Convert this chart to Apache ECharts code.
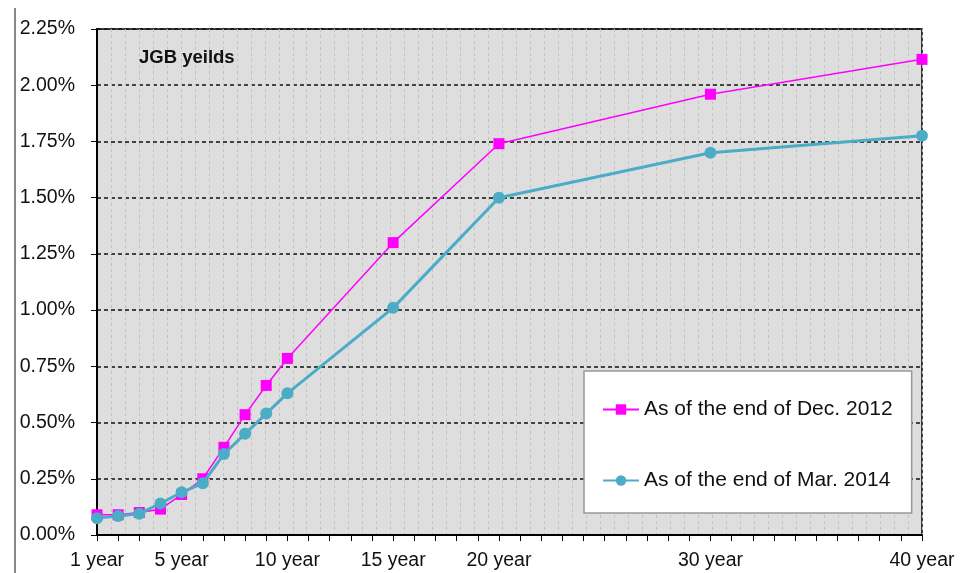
<!DOCTYPE html>
<html><head><meta charset="utf-8">
<script src="https://cdn.jsdelivr.net/npm/echarts@6/dist/echarts.min.js"></script>
<style>html,body{margin:0;padding:0;background:#fff}#c{width:965px;height:573px}</style>
</head><body><div id="c"></div>
<script>
const maturities = [1,2,3,4,5,6,7,8,9,10,15,20,30,40];
const labeledYears = [1,5,10,15,20,30,40];
const dec2012 = [0.09,0.09,0.10,0.115,0.18,0.25,0.39,0.535,0.665,0.785,1.30,1.74,1.96,2.115];
const mar2014 = [0.075,0.085,0.095,0.14,0.19,0.23,0.36,0.45,0.54,0.63,1.01,1.50,1.70,1.775];
const seriesNames = ['As of the end of Dec. 2012','As of the end of Mar. 2014'];
const titleText = 'JGB yeilds';

const FONT = 'Liberation Sans, Arial, sans-serif';
const chart = echarts.init(document.getElementById('c'), null, {renderer:'canvas'});
const pairs = a => maturities.map((m,i)=>[m,a[i]]);
chart.setOption({
  animation:false,
  backgroundColor:'#fff',
  textStyle:{fontFamily:FONT},
  grid:{left:97,right:43,top:29,bottom:38,show:true,backgroundColor:'#dedede',borderColor:'#000',borderWidth:1.5},
  title:{text:titleText,left:134,top:43,textStyle:{fontFamily:FONT,fontSize:18.5,fontWeight:'bold',color:'#111'}},
  legend:{
    orient:'vertical',left:584,top:371,
    backgroundColor:'#fff',borderColor:'#999',borderWidth:1.5,
    padding:[28,19,22,18],itemGap:50,itemWidth:36,itemHeight:13,
    textStyle:{fontFamily:FONT,fontSize:21,color:'#111'},
    data:seriesNames
  },
  xAxis:[{
    type:'value',min:1,max:40,interval:1,
    axisLine:{show:true,lineStyle:{color:'#000',width:2}},
    axisTick:{show:true,inside:false,length:6,lineStyle:{color:'#000',width:1}},
    splitLine:{show:false},
    axisLabel:{margin:16,fontSize:19.5,color:'#111',fontFamily:FONT,showMinLabel:true,showMaxLabel:true,
      formatter:v=>labeledYears.includes(v)?v+' year':''}
  },{
    type:'value',min:0,max:59,interval:1,show:true,position:'top',
    axisLine:{show:false},axisTick:{show:false},axisLabel:{show:false},
    splitLine:{show:true,lineStyle:{color:'#c2c2c2',type:[3,3],width:1}}
  }],
  yAxis:{
    type:'value',min:0,max:2.25,interval:0.25,
    axisLine:{show:true,lineStyle:{color:'#000',width:2}},
    axisTick:{show:true,inside:false,length:6,lineStyle:{color:'#000'}},
    splitLine:{show:true,lineStyle:{color:'#111',type:[4,3],width:1.6}},
    axisLabel:{margin:22,fontSize:19.5,color:'#111',fontFamily:FONT,formatter:v=>v.toFixed(2)+'%'}
  },
  graphic:[{type:'line',shape:{x1:15,y1:8,x2:15,y2:573},style:{stroke:'#888',lineWidth:2},silent:true}],
  series:[{
    name:seriesNames[0],type:'line',data:pairs(dec2012),xAxisIndex:0,
    symbol:'rect',symbolSize:11,color:'#ff00ff',
    lineStyle:{color:'#ff00ff',width:1.5},itemStyle:{color:'#ff00ff'},z:3
  },{
    name:seriesNames[1],type:'line',data:pairs(mar2014),xAxisIndex:0,
    symbol:'circle',symbolSize:12,color:'#4bacc6',
    lineStyle:{color:'#4bacc6',width:3},itemStyle:{color:'#4bacc6'},z:4
  }]
});
</script></body></html>
